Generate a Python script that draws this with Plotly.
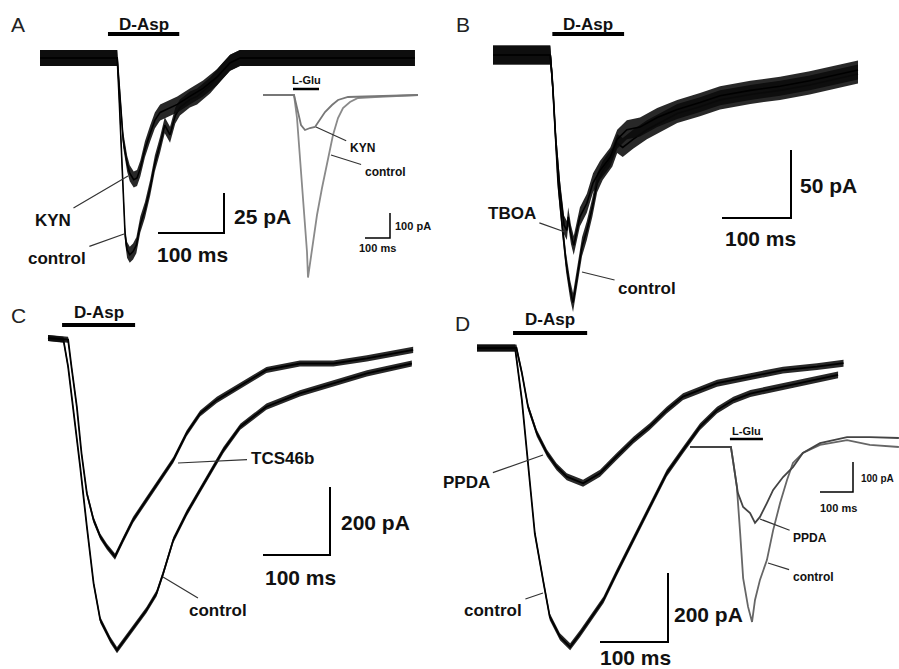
import plotly.graph_objects as go

W, H = 899, 669

# ================= DATA (time in ms, current in pA) =================
# Panel A - D-Asp responses
ctrlA_t = [0, 117, 120, 123, 126, 129, 132, 136, 141, 146, 152, 159, 167, 174, 182, 189, 197, 205, 212, 227, 238, 258, 277, 288, 303, 568]
ctrlA_I = [0, 0, -26, -57, -89, -111, -120, -123, -121, -117, -104, -95, -81, -66, -54, -42, -48, -36, -31, -26, -24, -17, -8, -3, 0, 0]
kynA_t = [0, 117, 120, 123, 126, 132, 136, 142, 147, 152, 159, 167, 174, 182, 192, 208, 227, 247, 268, 288, 303, 568]
kynA_I = [0, 0, -17, -36, -51, -66, -72, -76, -75, -69, -57, -47, -39, -34, -32, -29, -24, -19, -12, -3, 0, 0]
# Panel A inset - L-Glu responses
ctrlAi_t = [0, 124, 136, 148, 160, 176, 180, 196, 216, 236, 256, 268, 280, 300, 320, 348, 380, 448, 620]
ctrlAi_I = [0, 0, -92, -252, -452, -628, -730, -612, -480, -372, -280, -212, -160, -92, -52, -28, -12, -8, 0]
kynAi_t = [0, 124, 140, 152, 168, 188, 208, 228, 248, 276, 300, 340, 620]
kynAi_I = [0, 0, -68, -120, -140, -132, -128, -100, -68, -40, -20, -8, 0]
# Panel B
ctrlB_t = [0, 83, 86, 90, 94, 100, 106, 112, 116, 123, 129, 136, 144, 151, 159, 173, 180, 188, 203, 223, 242, 267, 300, 329, 373, 416, 459, 503, 529]
ctrlB_I = [0, 0, -18, -55, -92, -124, -153, -173, -182, -160, -141, -129, -112, -94, -85, -75, -65, -68, -62, -55, -50, -43, -38, -33, -29, -26, -22, -17, -14]
tboaB_t = [0, 83, 87, 91, 97, 103, 107, 109, 113, 117, 126, 136, 145, 155, 170, 180, 194, 213, 238, 267, 300, 329, 373, 416, 459, 503, 529]
tboaB_I = [0, 0, -26, -62, -99, -125, -129, -119, -132, -140, -119, -109, -94, -85, -75, -62, -55, -53, -46, -40, -35, -30, -26, -23, -19, -14, -11]
# Panel C
ctrlC_t = [0, 23, 30, 38, 48, 58, 68, 78, 93, 103, 118, 132, 147, 162, 172, 187, 207, 227, 247, 262, 287, 326, 376, 426, 476, 543]
ctrlC_I = [0, -5, -84, -212, -378, -555, -721, -829, -888, -918, -878, -839, -800, -751, -692, -594, -515, -447, -378, -329, -261, -202, -163, -133, -104, -75]
tcsC_t = [0, 23, 30, 35, 43, 50, 58, 68, 78, 88, 100, 112, 127, 147, 167, 187, 207, 227, 252, 277, 302, 326, 376, 426, 476, 545]
tcsC_I = [0, -3, -5, -84, -202, -339, -457, -535, -584, -614, -643, -594, -535, -476, -418, -359, -280, -222, -182, -153, -123, -94, -75, -75, -60, -35]
# Panel D
ctrlD_t = [0, 56, 66, 75, 85, 98, 107, 122, 137, 152, 166, 186, 205, 230, 254, 279, 303, 328, 353, 377, 402, 450, 500, 531]
ctrlD_I = [0, 0, -151, -344, -537, -682, -779, -837, -866, -827, -788, -730, -653, -556, -459, -363, -296, -228, -180, -151, -132, -112, -93, -78]
ppdaD_t = [0, 58, 66, 75, 88, 103, 117, 132, 156, 181, 205, 230, 254, 279, 303, 328, 353, 402, 450, 500, 539]
ppdaD_I = [0, 0, -72, -170, -247, -305, -344, -373, -392, -363, -315, -267, -228, -180, -141, -122, -102, -83, -64, -54, -44]
# Panel D inset - L-Glu responses
ctrlDi_t = [0, 124, 130, 142, 152, 161, 176, 188, 197, 212, 233, 252, 273, 294, 312, 342, 394, 476, 545, 633]
ctrlDi_I = [0, 0, -43, -133, -287, -437, -533, -583, -510, -443, -377, -277, -187, -110, -53, -20, 7, 23, 7, 0]
ppdaDi_t = [0, 124, 130, 145, 161, 182, 197, 212, 233, 252, 282, 312, 342, 394, 476, 545, 633]
ppdaDi_I = [0, 0, -43, -153, -200, -220, -253, -233, -187, -143, -100, -67, -20, 13, 33, 33, 30]

# drug application intervals (ms)
dasp_A = [103, 211]
lglu_A = [120, 224]
dasp_B = [86, 190]
dasp_C = [21, 130]
dasp_D = [53, 162]
lglu_D = [121, 221]

# scale bar sizes (ms, pA)
sb_A = (100, 25)
sb_Ai = (100, 100)
sb_B = (100, 50)
sb_C = (100, 200)
sb_D = (100, 200)
sb_Di = (100, 100)

# ================= GEOMETRY (pixel origin + px per unit) =================
GEOM = {
    'A':  dict(ax=1, x0=40,  y0=58,  sx=0.66, sy=1.6),
    'Ai': dict(ax=2, x0=263, y0=95,  sx=0.25, sy=0.25),
    'B':  dict(ax=3, x0=493, y0=55,  sx=0.69, sy=1.36),
    'C':  dict(ax=4, x0=48,  y0=338, sx=0.67, sy=0.34),
    'D':  dict(ax=5, x0=477, y0=348, sx=0.68, sy=0.345),
    'Di': dict(ax=6, x0=690, y0=447, sx=0.33, sy=0.30),
}
FONT = "Liberation Sans, Arial, Helvetica, sans-serif"


def axn(p, k):
    i = GEOM[p]['ax']
    return k if i == 1 else f'{k}{i}'


def to_t(p, px):
    g = GEOM[p]
    return (px - g['x0']) / g['sx']


def to_I(p, py):
    g = GEOM[p]
    return (g['y0'] - py) / g['sy']


fig = go.Figure()


def trace(p, t, I, noise=0, color='black', width=1.6):
    xa, ya = axn(p, 'x'), axn(p, 'y')
    if noise:
        fig.add_trace(go.Scatter(x=t, y=[v + noise for v in I], mode='lines',
                                 line=dict(width=0, color=color), xaxis=xa, yaxis=ya,
                                 hoverinfo='skip', showlegend=False))
        fig.add_trace(go.Scatter(x=t, y=[v - noise for v in I], mode='lines',
                                 line=dict(width=0, color=color), fill='tonexty',
                                 fillcolor='rgba(10,10,10,0.88)', xaxis=xa, yaxis=ya,
                                 hoverinfo='skip', showlegend=False))
    fig.add_trace(go.Scatter(x=t, y=I, mode='lines', line=dict(color=color, width=width),
                             xaxis=xa, yaxis=ya, showlegend=False))


annotations = []


def text(p, px, py, s, size, bold=True, xanchor='center', color='#111'):
    annotations.append(dict(x=to_t(p, px), y=to_I(p, py), xref=axn(p, 'x'), yref=axn(p, 'y'),
                            text=f'<b>{s}</b>' if bold else s, showarrow=False,
                            xanchor=xanchor, yanchor='middle',
                            font=dict(family=FONT, size=size, color=color)))


def pointer(p, tx, ty, hx, hy, s, size, color='#111'):
    annotations.append(dict(x=to_t(p, hx), y=to_I(p, hy), xref=axn(p, 'x'), yref=axn(p, 'y'),
                            ax=to_t(p, tx), ay=to_I(p, ty), axref=axn(p, 'x'), ayref=axn(p, 'y'),
                            text=f'<b>{s}</b>', showarrow=True, arrowhead=0, arrowwidth=1.2,
                            arrowcolor='#333', startstandoff=2,
                            font=dict(family=FONT, size=size, color=color)))


def drugbar(p, interval, py, label, ty, size, width=4, color='black'):
    I = to_I(p, py)
    fig.add_trace(go.Scatter(x=interval, y=[I, I], mode='lines',
                             line=dict(color=color, width=width), xaxis=axn(p, 'x'),
                             yaxis=axn(p, 'y'), showlegend=False, hoverinfo='skip'))
    tc = (interval[0] + interval[1]) / 2
    g = GEOM[p]
    text(p, g['x0'] + tc * g['sx'], ty, label, size)


def scalebar(p, cx, cy, sizes, width=2, color='black'):
    t0, I0 = to_t(p, cx), to_I(p, cy)
    dt, dI = sizes
    fig.add_trace(go.Scatter(x=[t0 - dt, t0, t0], y=[I0, I0, I0 + dI], mode='lines',
                             line=dict(color=color, width=width), xaxis=axn(p, 'x'),
                             yaxis=axn(p, 'y'), showlegend=False, hoverinfo='skip'))


# ---------- Panel A ----------
trace('Ai', ctrlAi_t, ctrlAi_I, 0, '#8a8a8a', 1.8)
trace('Ai', kynAi_t, kynAi_I, 0, '#777777', 1.8)
trace('A', ctrlA_t, ctrlA_I, 5, 'black', 1.6)
trace('A', kynA_t, kynA_I, 5, 'black', 1.6)
drugbar('A', dasp_A, 34, 'D-Asp', 24, 17)
drugbar('Ai', lglu_A, 89, 'L-Glu', 80, 11, width=2.5)
scalebar('A', 224, 233, sb_A)
text('A', 262, 216, '25 pA', 21)
text('A', 192, 254, '100 ms', 21)
scalebar('Ai', 390, 238, sb_Ai, width=1.5)
text('Ai', 393, 226, '100 pA', 11, xanchor='left')
text('Ai', 377, 248, '100 ms', 11)
pointer('A', 53, 220, 128, 176, 'KYN', 17)
pointer('A', 57, 258, 124, 234, 'control', 17)
pointer('Ai', 362, 148, 316, 127, 'KYN', 12)
pointer('Ai', 385, 172, 331, 155, 'control', 12)

# ---------- Panel B ----------
trace('B', ctrlB_t, ctrlB_I, 7, 'black', 1.6)
trace('B', tboaB_t, tboaB_I, 7, 'black', 1.6)
drugbar('B', dasp_B, 34, 'D-Asp', 24, 17)
scalebar('B', 791, 218, sb_B)
text('B', 828, 185, '50 pA', 21)
text('B', 760, 238, '100 ms', 21)
pointer('B', 512, 213, 565, 232, 'TBOA', 17)
pointer('B', 647, 288, 582, 272, 'control', 17)

# ---------- Panel C ----------
trace('C', ctrlC_t, ctrlC_I, 9, 'black', 1.8)
trace('C', tcsC_t, tcsC_I, 9, 'black', 1.8)
drugbar('C', dasp_C, 325, 'D-Asp', 312, 17)
scalebar('C', 330, 555, sb_C)
text('C', 375, 522, '200 pA', 21)
text('C', 300, 577, '100 ms', 21)
pointer('C', 282, 458, 178, 463, 'TCS46b', 17)
pointer('C', 218, 610, 163, 577, 'control', 17)

# ---------- Panel D ----------
trace('Di', ctrlDi_t, ctrlDi_I, 0, '#666666', 1.8)
trace('Di', ppdaDi_t, ppdaDi_I, 0, '#444444', 1.8)
trace('D', ctrlD_t, ctrlD_I, 10, 'black', 1.8)
trace('D', ppdaD_t, ppdaD_I, 10, 'black', 1.8)
drugbar('D', dasp_D, 333, 'D-Asp', 319, 17)
drugbar('Di', lglu_D, 439, 'L-Glu', 431, 11, width=2.5)
scalebar('D', 668, 642, sb_D)
text('D', 708, 614, '200 pA', 21)
text('D', 635, 657, '100 ms', 21)
scalebar('Di', 853, 492, sb_Di, width=1.5)
text('Di', 859, 478, '100 pA', 10, xanchor='left')
text('Di', 838, 508, '100 ms', 11)
pointer('D', 466, 482, 543, 455, 'PPDA', 17)
pointer('D', 493, 610, 543, 593, 'control', 17)
pointer('Di', 810, 538, 760, 519, 'PPDA', 12)
pointer('Di', 813, 577, 768, 563, 'control', 12)

# panel letters
for letter, px, py in [('A', 18, 25), ('B', 463, 25), ('C', 18, 315), ('D', 462, 323)]:
    annotations.append(dict(x=px / W, y=1 - py / H, xref='paper', yref='paper', text=letter,
                            showarrow=False, xanchor='center', yanchor='middle',
                            font=dict(family=FONT, size=21, color='#222')))

layout = dict(width=W, height=H, autosize=False, margin=dict(l=0, r=0, t=0, b=0),
              paper_bgcolor='white', plot_bgcolor='white', showlegend=False,
              annotations=annotations)
for p, g in GEOM.items():
    i = g['ax']
    xk = 'xaxis' if i == 1 else f'xaxis{i}'
    yk = 'yaxis' if i == 1 else f'yaxis{i}'
    xr = [(0 - g['x0']) / g['sx'], (W - g['x0']) / g['sx']]
    yr = [(g['y0'] - H) / g['sy'], g['y0'] / g['sy']]
    xa = dict(domain=[0, 1], range=xr, visible=False, fixedrange=True, anchor=axn(p, 'y'))
    ya = dict(domain=[0, 1], range=yr, visible=False, fixedrange=True, anchor=axn(p, 'x'))
    if i != 1:
        xa['overlaying'] = 'x'
        ya['overlaying'] = 'y'
    layout[xk] = xa
    layout[yk] = ya

fig.update_layout(**layout)
fig.write_html("out.html", config={'displayModeBar': False},
               post_script="document.body.style.margin='0px';document.body.style.overflow='hidden';")
